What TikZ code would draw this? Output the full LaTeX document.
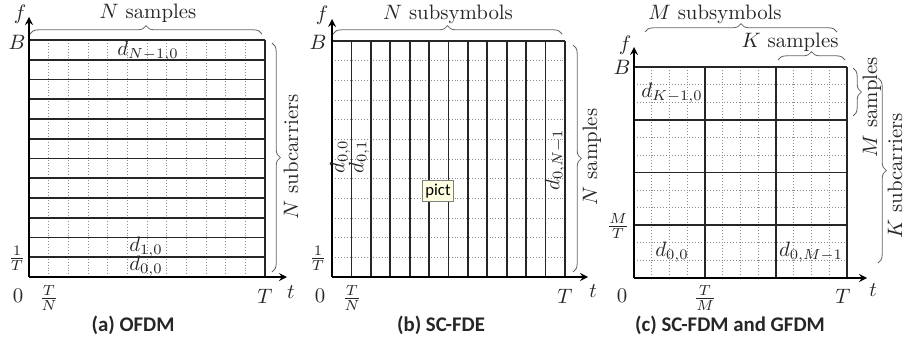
\documentclass[tikz,border=0pt]{standalone}
\usepackage{fontspec}
\newfontfamily\capfont{Carlito}
\usetikzlibrary{decorations.pathreplacing}
\definecolor{tipfill}{HTML}{FFFFE1}
\tikzset{
  solidline/.style={line width=0.85pt, black!85},
  dotline/.style={densely dotted, line width=0.4pt, black!45},
  axis/.style={->, >=stealth, line width=0.7pt, black},
  bracestyle/.style={decorate, decoration={brace, amplitude=4pt}, line width=0.4pt, black!60},
  lbl/.style={inner sep=0pt, text=black!85},
  caption/.style={inner sep=0pt, font=\capfont\bfseries\fontsize{10}{12}\selectfont, text=black!85},
  tipbox/.style={draw=black!50, fill=tipfill, inner sep=1.5pt, minimum width=14.4pt, minimum height=10pt, font=\capfont\fontsize{8}{9}\selectfont}
}
\begin{document}
\begin{tikzpicture}[x=0.48pt, y=-0.48pt]
\useasboundingbox (0,0) rectangle (905,339);

% ================= (a) OFDM =================
\coordinate (oa) at (29,277);
\coordinate (fa) at (29,17);
\coordinate (ta) at (287,277);
\foreach \j in {1,...,11} {
  \draw[dotline] ({29+\j*236/12},40) -- ({29+\j*236/12},277);
}
\foreach \i in {0,...,11} {
  \draw[solidline] (29,{40+\i*237/12}) -- (265,{40+\i*237/12});
}
\draw[solidline] (265,40) -- (265,277);
\draw[axis] (oa) -- (fa);
\draw[axis] (oa) -- (ta);
\node[lbl] (fA) at (20,14) {$f$};
\node[lbl] (BA) at (17,42) {$B$};
\node[lbl] (invTA) at (17,258) {$\frac{1}{T}$};
\node[lbl] (zA) at (18,296) {$0$};
\node[lbl] (TNA) at (49,298) {$\frac{T}{N}$};
\node[lbl] (TA) at (265,296) {$T$};
\node[lbl] (tA) at (291,292) {$t$};
\coordinate (ba1) at (30,34);
\coordinate (ba2) at (262,34);
\draw[bracestyle] (ba1) -- (ba2);
\node[lbl] (NsA) at (148,13) {$N$ samples};
\coordinate (ba3) at (272,43);
\coordinate (ba4) at (272,272);
\draw[bracestyle] (ba3) -- (ba4);
\node[lbl, rotate=90] (NscA) at (291,157) {$N$ subcarriers};
\node[lbl] (dA1) at (148,51) {$d_{N-1,0}$};
\node[lbl] (dA2) at (146,247) {$d_{1,0}$};
\node[lbl] (dA3) at (146,266) {$d_{0,0}$};
\node[caption] (capA) at (133,325) {(a) OFDM};

% ================= (b) SC-FDE =================
\coordinate (ob) at (332,277);
\coordinate (fb) at (332,19);
\coordinate (tb) at (588,277);
\foreach \i in {1,...,11} {
  \draw[dotline] (332,{41+\i*236/12}) -- (565,{41+\i*236/12});
}
\draw[solidline] (332,41) -- (565,41);
\foreach \j in {1,...,12} {
  \draw[solidline] ({332+\j*233/12},41) -- ({332+\j*233/12},277);
}
\draw[axis] (ob) -- (fb);
\draw[axis] (ob) -- (tb);
\node[lbl] (fB) at (322,15) {$f$};
\node[lbl] (BB) at (318,42) {$B$};
\node[lbl] (invTB) at (318,258) {$\frac{1}{T}$};
\node[lbl] (zB) at (320,296) {$0$};
\node[lbl] (TNB) at (352,298) {$\frac{T}{N}$};
\node[lbl] (TB) at (565,296) {$T$};
\node[lbl] (tB) at (593,291) {$t$};
\coordinate (bb1) at (333,34);
\coordinate (bb2) at (562,34);
\draw[bracestyle] (bb1) -- (bb2);
\node[lbl] (NsB) at (448,14) {$N$ subsymbols};
\coordinate (bb3) at (573,45);
\coordinate (bb4) at (573,272);
\draw[bracestyle] (bb3) -- (bb4);
\node[lbl, rotate=90] (NscB) at (592,157) {$N$ samples};
\node[lbl, rotate=90] (dB1) at (340,157) {$d_{0,0}$};
\node[lbl, rotate=90] (dB2) at (359,157) {$d_{0,1}$};
\node[lbl, rotate=90] (dB3) at (555,160) {$d_{0,N-1}$};
\node[tipbox] (pict) at (438,191) {pict};
\node[caption] (capB) at (441,325) {(b) SC-FDE};

% ================= (c) SC-FDM and GFDM =================
\coordinate (oc) at (634,278);
\coordinate (fc) at (634,47);
\coordinate (tc) at (867,278);
\foreach \j in {1,2,3,5,6,7,9,10,11} {
  \draw[dotline] ({634+\j*213/12},67) -- ({634+\j*213/12},278);
}
\foreach \i in {1,2,4,5,7,8,10,11} {
  \draw[dotline] (634,{67+\i*211/12}) -- (847,{67+\i*211/12});
}
\foreach \i in {0,1,2,3} {
  \draw[solidline] (634,{67+\i*211/4}) -- (847,{67+\i*211/4});
}
\foreach \j in {1,2,3} {
  \draw[solidline] ({634+\j*213/3},67) -- ({634+\j*213/3},278);
}
\draw[axis] (oc) -- (fc);
\draw[axis] (oc) -- (tc);
\node[lbl] (fC) at (625,45) {$f$};
\node[lbl] (BC) at (622,67) {$B$};
\node[lbl] (MTC) at (618,226) {$\frac{M}{T}$};
\node[lbl] (zC) at (622,296) {$0$};
\node[lbl] (TMC) at (705,298) {$\frac{T}{M}$};
\node[lbl] (TC) at (843,296) {$T$};
\node[lbl] (tC) at (873,290) {$t$};
\coordinate (bc1) at (645,32);
\coordinate (bc2) at (837,32);
\draw[bracestyle] (bc1) -- (bc2);
\node[lbl] (MsC) at (715,14) {$M$ subsymbols};
\coordinate (bc3) at (778,60);
\coordinate (bc4) at (845,60);
\draw[bracestyle] (bc3) -- (bc4);
\node[lbl] (KsC) at (790,42) {$K$ samples};
\coordinate (bc5) at (853,68);
\coordinate (bc6) at (853,116);
\draw[bracestyle] (bc5) -- (bc6);
\node[lbl, rotate=90] (MsaC) at (872,107) {$M$ samples};
\coordinate (bc7) at (878,78);
\coordinate (bc8) at (878,263);
\draw[bracestyle] (bc7) -- (bc8);
\node[lbl, rotate=90] (KscC) at (895,176) {$K$ subcarriers};
\node[lbl] (dC1) at (672,93) {$d_{K-1,0}$};
\node[lbl] (dC2) at (672,252) {$d_{0,0}$};
\node[lbl] (dC3) at (811,252) {$d_{0,M-1}$};
\node[caption] (capC) at (730,325) {(c) SC-FDM and GFDM};
\end{tikzpicture}
\end{document}
